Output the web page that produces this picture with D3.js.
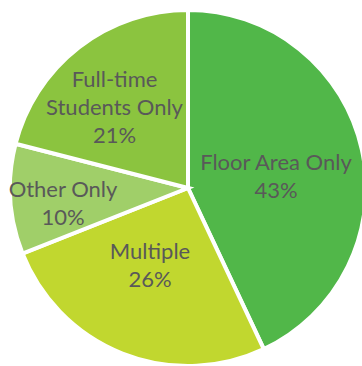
<!DOCTYPE html>
<html>
<head>
<meta charset="utf-8">
<script src="https://cdn.jsdelivr.net/npm/d3@7"></script>
<style>
  html, body { margin: 0; padding: 0; background: #ffffff; }
  svg { display: block; }
</style>
</head>
<body>
<svg id="chart" width="362" height="366"></svg>
<script>
// Share of cases by category, clockwise from 12 o'clock
const categories = ["Floor Area Only", "Multiple", "Other Only", "Full-time Students Only"];
const shares = [43, 26, 10, 21];
const percentLabels = ["43%", "26%", "10%", "21%"];
// Wrapped label lines for each slice
const labelLines = [
  ["Floor Area Only"],
  ["Multiple"],
  ["Other Only"],
  ["Full-time", "Students Only"]
];

const sliceColors = ["#51b749", "#c1d72f", "#a0cf69", "#8bc43f"];
// Label block centres, relative to the pie centre
const labelSpots = [[88, -12], [-38, 77], [-125, 15], [-73.5, -81]];

const width = 362, height = 366;
const cx = 188, cy = 188, radius = 178;
const fontSize = 22, lineHeight = 28;

const svg = d3.select("#chart");
const g = svg.append("g").attr("transform", `translate(${cx},${cy})`);

const pie = d3.pie().sort(null).value(d => d);
const arcs = pie(shares);
const arc = d3.arc().innerRadius(0).outerRadius(radius);

g.selectAll("path.slice")
  .data(arcs)
  .join("path")
  .attr("class", "slice")
  .attr("d", arc)
  .attr("fill", (d, i) => sliceColors[i])
  .attr("stroke", "#ffffff")
  .attr("stroke-width", 4)
  .attr("stroke-linejoin", "miter");

g.selectAll("text.label")
  .data(arcs)
  .join("text")
  .attr("class", "label")
  .attr("text-anchor", "middle")
  .attr("fill", "#595959")
  .style("font-family", "Lato, 'Open Sans', sans-serif")
  .style("font-size", fontSize + "px")
  .each(function (d, i) {
    const lines = labelLines[i].concat([percentLabels[i]]);
    const [lx, ly] = labelSpots[i];
    const first = ly - (lines.length - 1) * lineHeight / 2 + fontSize * 0.35;
    const t = d3.select(this);
    lines.forEach((line, k) => {
      t.append("tspan")
        .attr("x", lx)
        .attr("y", first + k * lineHeight)
        .text(line);
    });
  });
</script>
</body>
</html>
